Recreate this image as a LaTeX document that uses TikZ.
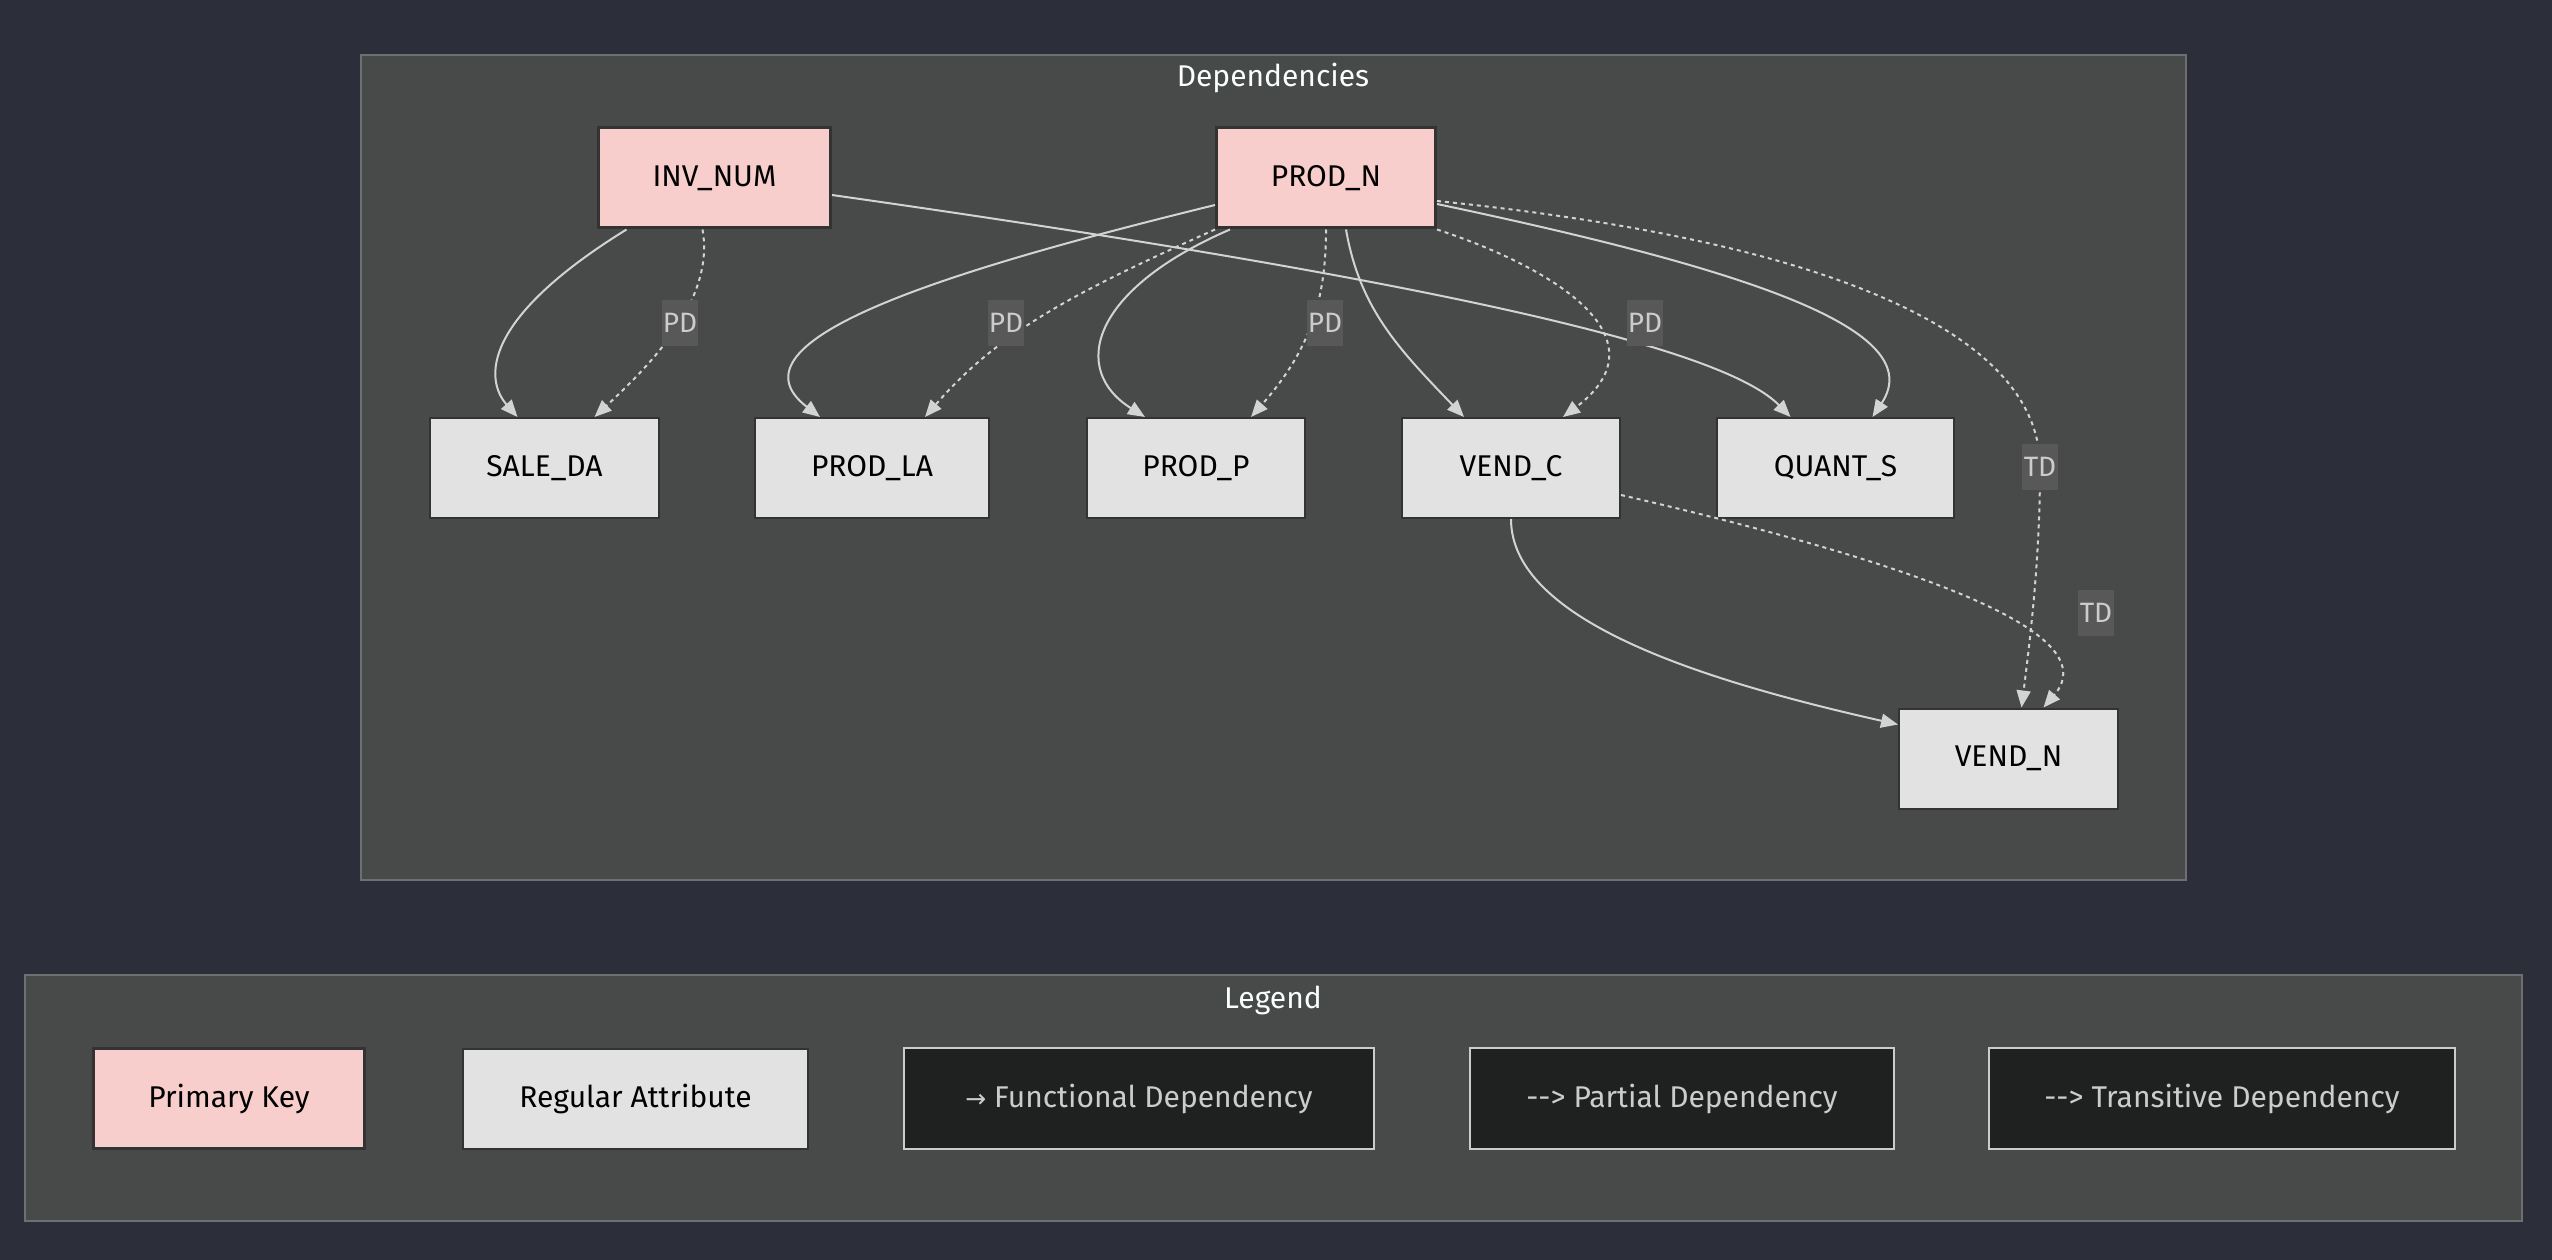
\documentclass[tikz,border=0pt]{standalone}
\usepackage{fontspec}
\setmainfont{Fira Sans}
\newfontfamily\symfont{DejaVu Sans}
\usetikzlibrary{arrows.meta,calc}

\definecolor{canvas}{HTML}{2C2F3A}
\definecolor{clusterfill}{HTML}{484949}
\definecolor{clusterline}{HTML}{6E6F72}
\definecolor{pkfill}{HTML}{F8CECC}
\definecolor{attrfill}{HTML}{E2E2E2}
\definecolor{nodeline}{HTML}{333333}
\definecolor{edgecol}{HTML}{D3D3D3}
\definecolor{lblbg}{HTML}{585858}
\definecolor{lbltext}{HTML}{CCCCCC}
\definecolor{legendfill}{HTML}{1F2020}
\definecolor{legendline}{HTML}{CCCCCC}
\definecolor{titlecol}{HTML}{F9FFFE}

\tikzset{
  cluster/.style={draw=clusterline, fill=clusterfill, line width=1.5pt},
  title/.style={text=titlecol, inner sep=0pt},
  entity/.style={draw=nodeline, text=black, inner sep=0pt, minimum height=100pt},
  pkbox/.style={entity, fill=pkfill, line width=3pt},
  attrbox/.style={entity, fill=attrfill, line width=2pt},
  keybox/.style={draw=legendline, fill=legendfill, text=lbltext, line width=1.5pt,
    inner sep=0pt, minimum height=101pt},
  deplabel/.style={fill=lblbg, text=lbltext, inner sep=0pt,
    minimum width=36pt, minimum height=46pt, font=\fontsize{28}{33}\selectfont},
  fd/.style={draw=edgecol, line width=2pt, -{Triangle[length=17pt,width=14pt]}},
  pd/.style={fd, dash pattern=on 4pt off 4pt}
}

\begin{document}
\begin{tikzpicture}[x=1pt, y=1pt, font=\fontsize{30}{36}\selectfont]
  % canvas
  \fill[canvas] (0,0) rectangle (2552,-1260);
  \useasboundingbox (0,0) rectangle (2552,-1260);

  % groups
  \draw[cluster] (361,-55) rectangle (2186,-880);
  \draw[cluster] (25,-975) rectangle (2522,-1221);
  \node[title] (deptitle) at (1273,-78) {Dependencies};
  \node[title] (legtitle) at (1273,-1000) {Legend};

  % key attributes
  \node[pkbox, minimum width=232pt] (inv)   at (714.5,-178) {INV\_NUM};
  \node[pkbox, minimum width=219pt] (prodn) at (1326,-178)  {PROD\_N};

  % dependent attributes
  \node[attrbox, minimum width=229pt] (sale)   at (544.5,-468)  {SALE\_DA};
  \node[attrbox, minimum width=234pt] (prodla) at (872,-468)    {PROD\_LA};
  \node[attrbox, minimum width=218pt] (prodp)  at (1196,-468)   {PROD\_P};
  \node[attrbox, minimum width=218pt] (vendc)  at (1511,-468)   {VEND\_C};
  \node[attrbox, minimum width=237pt] (quant)  at (1835.5,-468) {QUANT\_S};
  \node[attrbox, minimum width=219pt] (vendn)  at (2008.5,-758.5) {VEND\_N};

  % label anchors (drawn later, on top of the edges)
  \coordinate (td1c) at (2040,-467);

  % functional dependencies
  \draw[fd] ([xshift=-88pt]inv.south) .. controls (480,-320) and (485,-380) .. ([xshift=-27pt]sale.north);
  \draw[fd] ([yshift=-17pt]inv.east) .. controls (1500,-290) and (1730,-355) .. ([xshift=-45pt]quant.north);
  \draw[fd] ([yshift=-27pt]prodn.west) .. controls (950,-270) and (720,-340) .. ([xshift=-52pt]prodla.north);
  \draw[fd] ([xshift=-96pt]prodn.south) .. controls (1090,-290) and (1070,-370) .. ([xshift=-51pt]prodp.north);
  \draw[fd] ([xshift=20pt]prodn.south) .. controls (1360,-310) and (1400,-350) .. ([xshift=-47pt]vendc.north);
  \draw[fd] ([yshift=-26pt]prodn.east) .. controls (1750,-270) and (1930,-330) .. ([xshift=37pt]quant.north);
  \draw[fd] (vendc.south) .. controls (1511,-620) and (1700,-680) .. ([yshift=34pt]vendn.west);

  % partial dependencies
  \draw[pd] ([xshift=-12pt]inv.south) .. controls (715,-300) and (650,-365) .. ([xshift=50pt]sale.north);
  \draw[pd] (prodn.south west) .. controls (1080,-290) and (1000,-330) .. ([xshift=53pt]prodla.north);
  \draw[pd] (prodn.south) .. controls (1326,-300) and (1310,-350) .. ([xshift=55pt]prodp.north);
  \draw[pd] (prodn.south east) .. controls (1560,-270) and (1665,-340) .. ([xshift=52pt]vendc.north);

  % transitive dependencies
  \draw[pd] ([yshift=-23pt]prodn.east) .. controls (1820,-240) and (2040,-330) .. (td1c)
            .. controls (2040,-560) and (2030,-640) .. ([xshift=13pt]vendn.north);
  \draw[pd] ([yshift=-27pt]vendc.east) .. controls (1900,-560) and (2110,-630) .. ([xshift=35pt]vendn.north);

  % edge labels
  \node[deplabel] (pd1) at (680,-323)  {PD};
  \node[deplabel] (pd2) at (1006,-323) {PD};
  \node[deplabel] (pd3) at (1325,-323) {PD};
  \node[deplabel] (pd4) at (1645,-323) {PD};
  \node[deplabel] (td1) at (td1c)      {TD};
  \node[deplabel] (td2) at (2096,-613) {TD};

  % legend
  \node[pkbox, minimum width=271pt]   (pkkey)   at (229,-1098.5)  {Primary Key};
  \node[attrbox, minimum width=345pt] (attrkey) at (635.5,-1098.5) {Regular Attribute};
  \node[keybox, minimum width=470pt]  (fdkey)   at (1139,-1098.5)  {{\symfont\fontsize{25}{30}\selectfont →} Functional Dependency};
  \node[keybox, minimum width=424pt]  (pdkey)   at (1682,-1098.5)  {-{}-{}> Partial Dependency};
  \node[keybox, minimum width=466pt]  (tdkey)   at (2222,-1098.5)  {-{}-{}> Transitive Dependency};
\end{tikzpicture}
\end{document}
